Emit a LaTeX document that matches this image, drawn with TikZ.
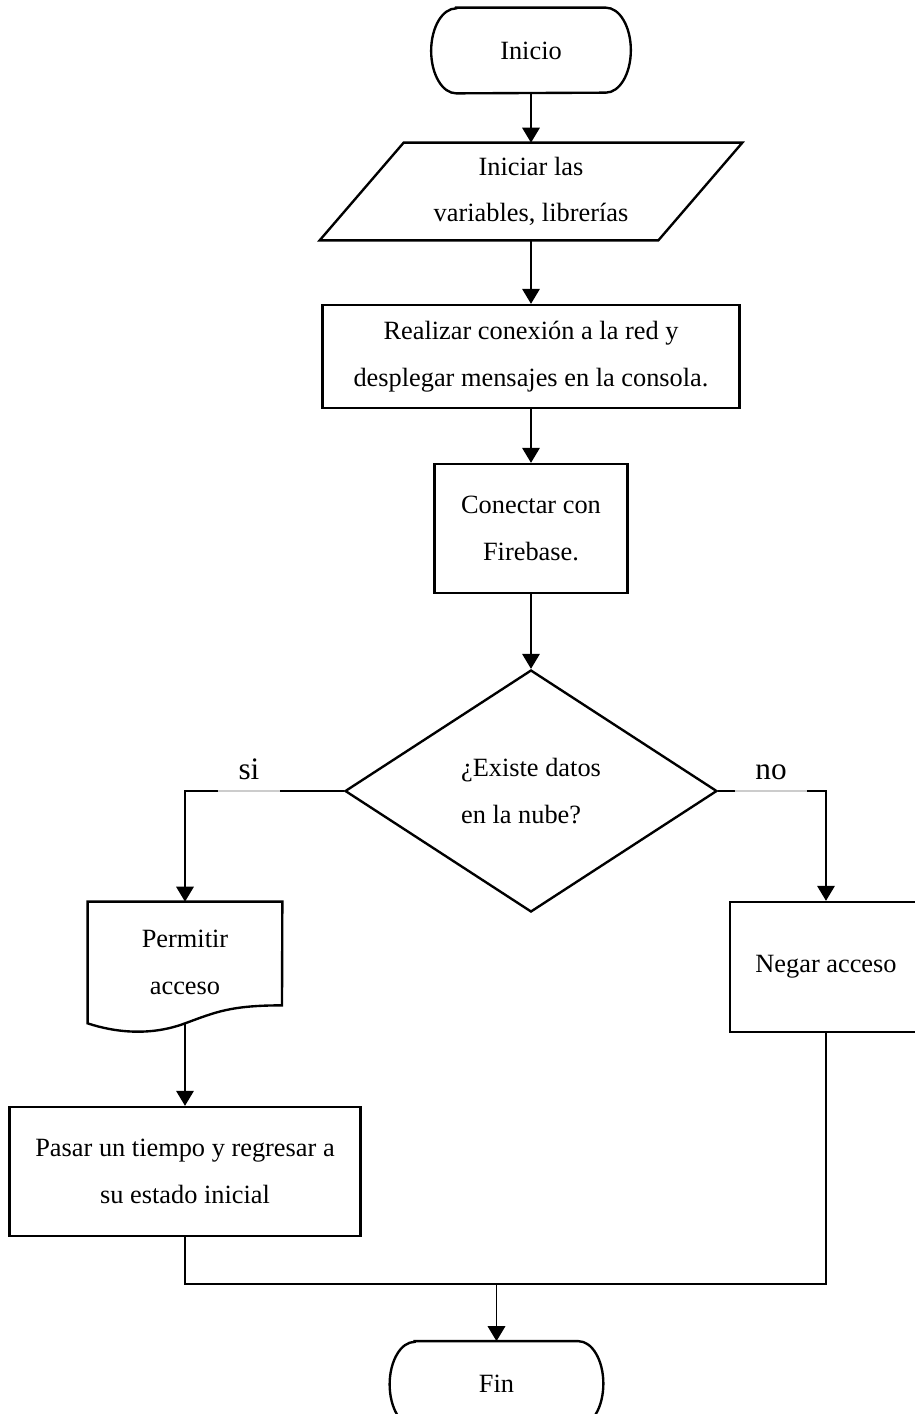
\documentclass[tikz,border=0pt]{standalone}
\usepackage{fontspec}
\setmainfont{Liberation Serif}
\usetikzlibrary{arrows.meta, positioning, shapes.geometric, calc}
\newcommand{\boxfont}{\fontsize{15}{26.5}\selectfont}
% outline of a start/end node, with flat elliptic ends
\newcommand{\termoutline}[1]{%
  \draw[outline] ($(#1.north west)+(0.5,0)$) -- ($(#1.north east)+(-0.5,0)$)
    arc[start angle=90, end angle=-90, x radius=0.5, y radius=0.85]
    -- ($(#1.south west)+(0.5,0)$)
    arc[start angle=270, end angle=90, x radius=0.5, y radius=0.85] -- cycle;}

\begin{document}
\begin{tikzpicture}[
    base/.style={draw, line width=1.35pt, align=center, font=\boxfont, inner sep=2pt},
    terminal/.style={align=center, font=\boxfont, minimum height=1.7cm},
    process/.style={base, rectangle},
    iobox/.style={align=center, font=\boxfont, minimum width=6.76cm, minimum height=1.94cm},
    docbox/.style={align=center, font=\boxfont, minimum width=3.88cm, minimum height=2.42cm},
    decision/.style={base, diamond, align=left, minimum width=7.44cm, minimum height=4.84cm},
    outline/.style={line width=1.35pt, line join=miter},
    line/.style={line width=0.75pt},
    arrow/.style={line, -{Triangle[length=8.5pt, width=10pt]}},
    lbl/.style={anchor=south, inner sep=0pt, text depth=0.22cm,
                font=\fontsize{17.8}{20}\selectfont},
    labelgap/.style={draw=gray!40, line width=0.6pt, preaction={draw=white, line width=1.8pt}},
  ]
  \useasboundingbox (0,0) rectangle (18.3,-28.28);

  % Start
  \node[terminal, minimum width=3.98cm] (start) at (10.62,-1.01) {Inicio};
  \termoutline{start}

  % Variables (input/output)
  \node[iobox] (vars) at (10.62,-3.83) {Iniciar las\\variables, librerías};
  \draw[outline] ($(vars.south west)+(-0.84,0)$) -- ($(vars.north west)+(0.84,0)$)
    -- ($(vars.north east)+(0.84,0)$) -- ($(vars.south east)+(-0.84,0)$) -- cycle;

  % Network
  \node[process, minimum width=8.34cm, minimum height=2.06cm] (net) at (10.62,-7.13)
    {Realizar conexión a la red y\\desplegar mensajes en la consola.};

  % Firebase
  \node[process, minimum width=3.86cm, minimum height=2.58cm] (fire) at (10.62,-10.57)
    {Conectar con\\Firebase.};

  % Decision
  \node[decision] (check) at (10.62,-15.82) {¿Existe datos\\en la nube?};

  % Permit (document)
  \node[docbox] (permit) at (3.70,-19.25) {Permitir\\acceso};
  \draw[outline] (permit.south west) -- (permit.north west) -- (permit.north east)
    -- ($(permit.south)+(1.94,0.36)$)
    .. controls ($(permit.south)+(0.9,0.36)$) and ($(permit.south)+(0.6,0.22)$) .. (permit.south)
    .. controls ($(permit.south)+(-0.7,-0.26)$) and ($(permit.south)+(-1.4,-0.18)$) .. (permit.south west)
    -- cycle;

  % Back to initial state
  \node[process, minimum width=7.02cm, minimum height=2.58cm] (back) at (3.70,-23.43)
    {Pasar un tiempo y regresar a\\su estado inicial};

  % Deny
  \node[process, minimum width=3.84cm, minimum height=2.6cm] (deny) at (16.52,-19.34)
    {Negar acceso};

  % End
  \node[terminal, minimum width=4.26cm] (stop) at (9.93,-27.68) {Fin};
  \termoutline{stop}

  % Arrows
  \draw[arrow] (start) -- (vars);
  \draw[arrow] (vars) -- (net);
  \draw[arrow] (net) -- (fire);
  \draw[arrow] (fire) -- (check);
  \draw[arrow] (check.west) -| (permit.north);
  \draw[arrow] (check.east) -| (deny.north);
  \draw[arrow] (permit.south) -- (back.north);

  \coordinate (merge) at (9.93,-25.68);
  \draw[line] (back.south) |- (merge) -| (deny.south);
  \draw[arrow] (merge) -- (stop);

  % Branch labels
  \node[lbl, minimum width=1.24cm] (si) at (4.98,-15.82) {si};
  \node[lbl, minimum width=1.44cm] (no) at (15.42,-15.82) {no};
  \draw[labelgap] (si.south west) -- (si.south east);
  \draw[labelgap] (no.south west) -- (no.south east);
\end{tikzpicture}
\end{document}
